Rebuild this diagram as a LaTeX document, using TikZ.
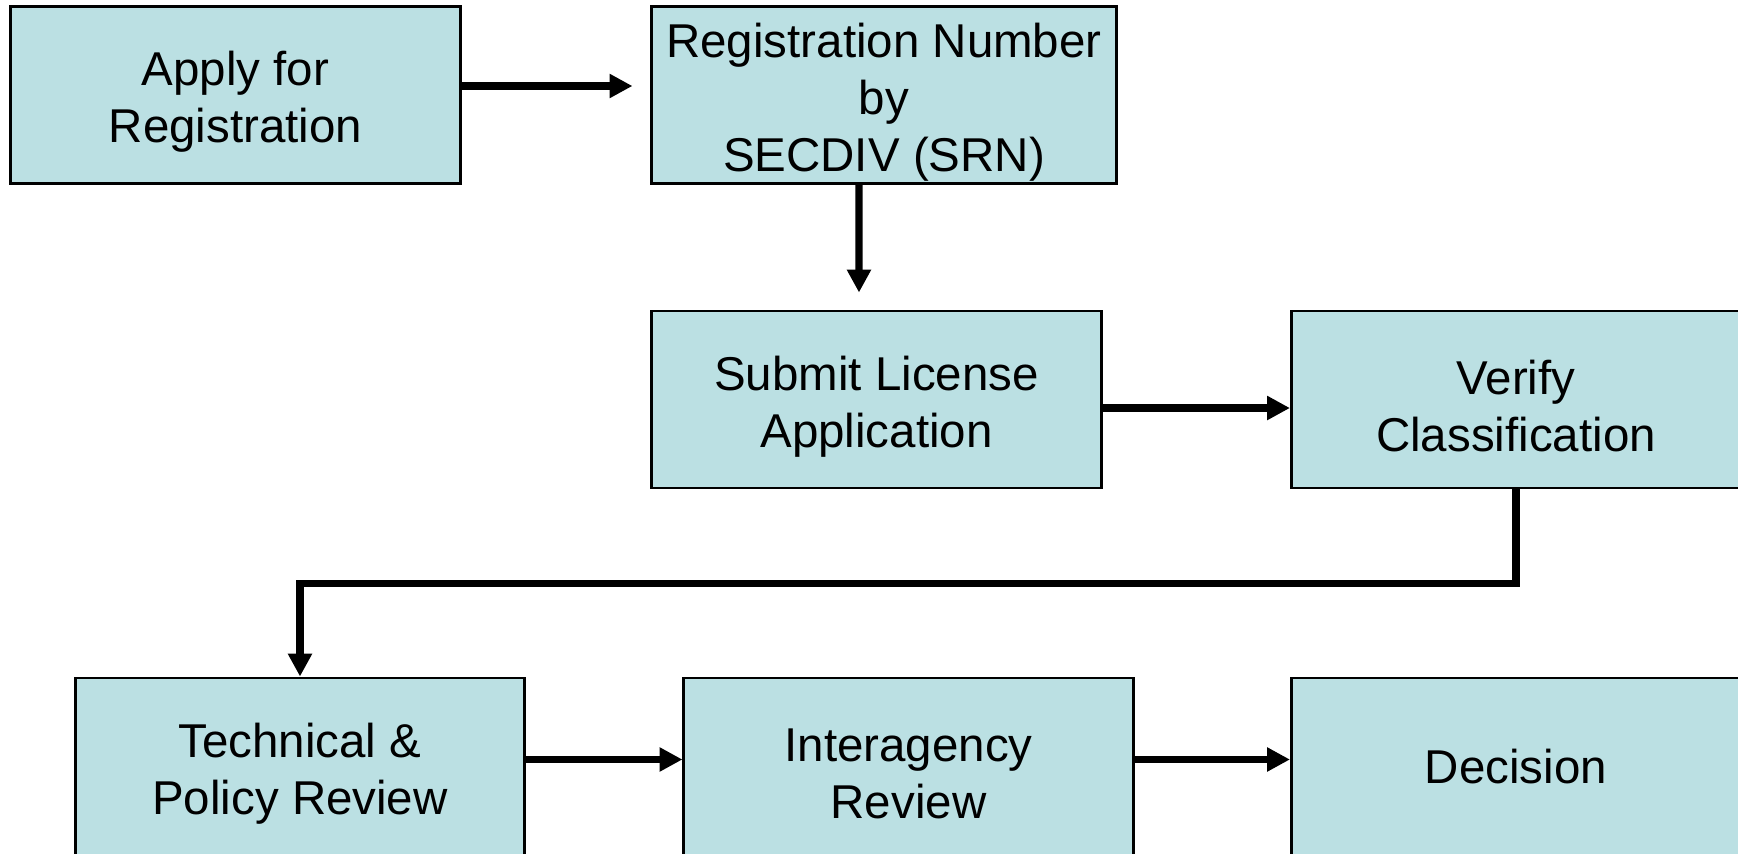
\documentclass[tikz,border=0pt]{standalone}
\usepackage{fontspec}
\setmainfont{Liberation Sans}
\usetikzlibrary{arrows.meta}
\definecolor{boxfill}{RGB}{187,224,227}
\newcommand{\topgap}{\rule{0pt}{13.7pt}}
\begin{document}
\begin{tikzpicture}[x=0.01cm, y=-0.01cm,
	box/.style={draw=black, line width=0.8pt, fill=boxfill, minimum width=4.49cm, minimum height=1.77cm, align=center, inner sep=0pt, font=\fontsize{13.5}{16.2}\selectfont},
	link/.style={line width=2.1pt, -{Triangle[length=6.5pt,width=6.5pt]}}]
	\useasboundingbox (0,0) rectangle (1738,854);
	\clip (0,0) rectangle (1738,854);

	\node[box] (apply) at (235.5,95) {\topgap Apply for\\Registration};
	\node[box, minimum width=4.64cm] (srn) at (884,95) {\topgap Registration Number\\by\\SECDIV (SRN)};
	\node[box] (submit) at (876.5,399.5) {\topgap Submit License\\Application};
	\node[box] (verify) at (1516,399.5) {\topgap Verify\\Classification};
	\node[box] (technical) at (300,766.5) {\topgap Technical \&\\Policy Review};
	\node[box] (interagency) at (908.5,766.5) {\topgap Interagency\\Review};
	\node[box] (decision) at (1516,766.5) {Decision};

	\draw[link, shorten >=0.18cm] ([yshift=0.09cm]apply.east) -- ([yshift=0.09cm]srn.west);
	\draw[link, shorten >=0.17cm] ([xshift=-0.25cm]srn.south) -- ([xshift=-0.175cm]submit.north);
	\draw[link] ([yshift=-0.085cm]submit.east) -- ([yshift=-0.085cm]verify.west);
	\draw[link] (verify.south) -- ++(0,94) -| (technical.north);
	\draw[link] ([yshift=0.07cm]technical.east) -- ([yshift=0.07cm]interagency.west);
	\draw[link] ([yshift=0.07cm]interagency.east) -- ([yshift=0.07cm]decision.west);
\end{tikzpicture}
\end{document}
